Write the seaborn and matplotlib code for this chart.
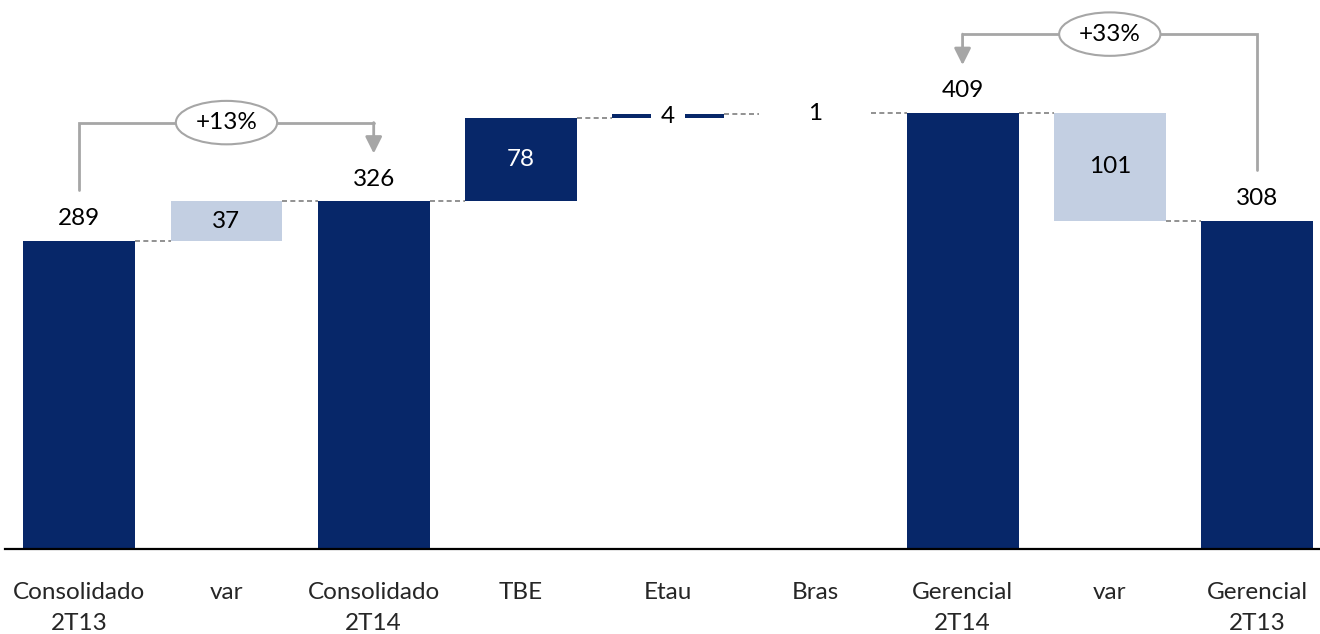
import numpy as np
import matplotlib
matplotlib.use("Agg")
import matplotlib.pyplot as plt
import seaborn as sns

# waterfall data
labels = ["Consolidado\n2T13", "var", "Consolidado\n2T14", "TBE", "Etau",
          "Bras", "Gerencial\n2T14", "var", "Gerencial\n2T13"]
values = [289, 37, 326, 78, 4, 1, 409, -101, 308]
kinds = ["total", "delta", "total", "delta", "delta", "delta", "total", "delta", "total"]

# growth brackets: (from bar, to bar, text)
growth = [(0, 2, "+13%"), (8, 6, "+33%")]

DARK = "#072769"
LIGHT = "#C3CFE2"
GREY = "#A6A6A6"

sns.set_style("white")
plt.rcParams["font.family"] = ["Lato", "DejaVu Sans"]
FS = 17.5

# bottoms / heights / running level
bottoms, heights, levels = [], [], []
level = 0
for v, k in zip(values, kinds):
    if k == "total":
        bottoms.append(0)
        heights.append(v)
        level = v
    else:
        bottoms.append(min(level, level + v))
        heights.append(abs(v))
        level = level + v
    levels.append(level)

colors = []
for i, k in enumerate(kinds):
    if k == "total":
        colors.append(DARK)
    elif labels[i] == "var":
        colors.append(LIGHT)
    elif labels[i] == "Bras":
        colors.append("white")
    else:
        colors.append(DARK)

fig = plt.figure(figsize=(13.2, 6.34), dpi=100)
ax = fig.add_axes([0.004, 0.134, 0.996, 0.866])

x = np.arange(len(values))
W = 0.76
sns.barplot(x=x, y=heights, bottom=bottoms, width=W, color=DARK,
            errorbar=None, ax=ax, linewidth=0, native_scale=True)
for p, c in zip(ax.patches, colors):
    p.set_facecolor(c)

ax.set_xlim(-0.5026, 8.428)
ax.set_ylim(0, 515)

# connectors
for i in range(len(values) - 1):
    ax.plot([i + W / 2, i + 1 - W / 2], [levels[i], levels[i]], color="#7F7F7F",
            lw=1.2, ls=(0, (3, 2)), zorder=1)

# value labels
for i, (v, k) in enumerate(zip(values, kinds)):
    top = bottoms[i] + heights[i]
    txt = str(abs(v))
    if k == "total":
        ax.annotate(txt, (i, top), xytext=(0, 16), textcoords="offset points",
                    ha="center", va="center", fontsize=FS, color="black")
    elif heights[i] >= 20:
        c = "white" if colors[i] == DARK else "black"
        ax.text(i, bottoms[i] + heights[i] / 2, txt, ha="center", va="center",
                fontsize=FS, color=c)
    else:
        ax.text(i, bottoms[i] + heights[i] / 2, txt, ha="center", va="center",
                fontsize=FS, color="black", zorder=4,
                bbox=dict(boxstyle="square,pad=0.4", fc="white", ec="none"))

# growth brackets
for a, b, txt in growth:
    hi = max(values[a], values[b])
    start = values[a] + 48
    top = hi + 74
    tip = values[b] + 45
    ax.plot([a, a, b], [start, top, top], color=GREY, lw=2, zorder=2,
            solid_joinstyle="miter")
    ax.annotate("", xy=(b, tip), xytext=(b, top),
                arrowprops=dict(arrowstyle="-|>,head_length=1.0,head_width=0.5",
                                color=GREY, lw=2, shrinkA=0, shrinkB=0))
    ax.text((a + b) / 2, top, txt, ha="center", va="center", fontsize=FS,
            color="black", zorder=5,
            bbox=dict(boxstyle="ellipse,pad=0.2", fc="white", ec=GREY, lw=1.5))

ax.set_xticks(x)
ax.set_xticklabels(labels, fontsize=FS, linespacing=1.55)
ax.tick_params(axis="x", length=0, pad=24)
ax.set_yticks([])
for s in ["top", "right", "left"]:
    ax.spines[s].set_visible(False)
ax.spines["bottom"].set_color("black")
ax.spines["bottom"].set_linewidth(1.6)

fig.savefig("out.png", dpi=100)
